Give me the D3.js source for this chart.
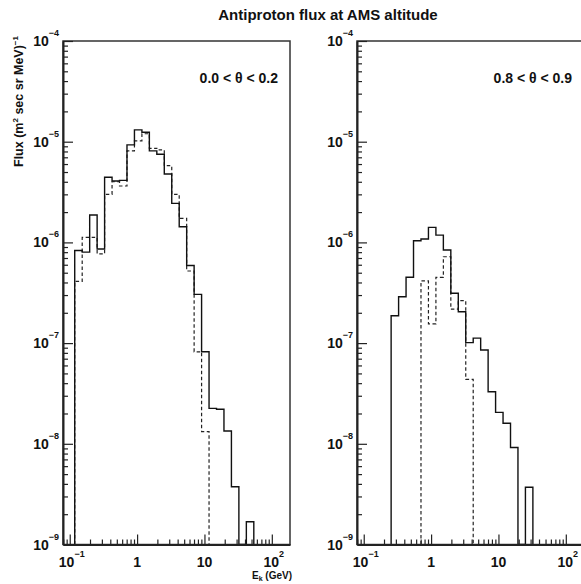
<!DOCTYPE html>
<html>
<head>
<meta charset="utf-8">
<script src="https://cdnjs.cloudflare.com/ajax/libs/d3/7.8.5/d3.min.js"></script>
<style>
  body { margin: 0; background: #fff; }
  text { font-family: "Liberation Sans", Arial, sans-serif; font-weight: bold; fill: #111; }
</style>
</head>
<body>
<div id="chart"></div>
<script>
// bin edges in GeV (equal steps in log E)
const binEdges = [0.1186, 0.1531, 0.1977, 0.2551, 0.3293, 0.4249, 0.5483, 0.7077, 0.9134,
  1.179, 1.521, 1.963, 2.533, 3.269, 4.219, 5.444, 7.025, 9.066, 11.70, 15.10, 19.48,
  25.14, 32.44, 41.87, 54.03];

// flux per bin, 0.0 < theta < 0.2
const leftSolid = [8.3e-7, 8.0e-7, 1.87e-6, 8.6e-7, 4.43e-6, 4.07e-6, 4.13e-6, 9.3e-6,
  1.31e-5, 1.24e-5, 8.1e-6, 7.5e-6, 4.78e-6, 2.44e-6, 1.43e-6, 5.9e-7, 3.05e-7, 8.2e-8,
  2.25e-8, 2.2e-8, 1.34e-8, 3.75e-9, 0, 1.68e-9];
const leftDashed = [4.1e-7, 1.12e-6, 1.12e-6, 7.7e-7, 3.0e-6, 4.0e-6, 3.63e-6, 8.1e-6,
  1.02e-5, 1.2e-5, 8.6e-6, 8.3e-6, 5.78e-6, 3.0e-6, 1.73e-6, 5.2e-7, 8.2e-8, 1.32e-8,
  0, 0, 0, 0, 0, 0];

// flux per bin, 0.8 < theta < 0.9
const rightSolid = [0, 0, 0, 1.87e-7, 2.89e-7, 4.5e-7, 1.04e-6, 1.08e-6, 1.41e-6, 1.18e-6,
  8.4e-7, 3.13e-7, 2.05e-7, 1.01e-7, 1.12e-7, 8.55e-8, 3.29e-8, 2.05e-8, 1.6e-8, 9.2e-9,
  0, 3.7e-9, 0, 0];
const rightDashed = [0, 0, 0, 0, 0, 0, 0, 4.14e-7, 1.55e-7, 4.5e-7, 7.2e-7, 2.17e-7,
  2.64e-7, 4.37e-8, 0, 0, 0, 0, 0, 0, 0, 0, 0, 0];

const panelLabels = ["0.0 < \u03b8 < 0.2", "0.8 < \u03b8 < 0.9"];
const yMajorExp = [-4, -5, -6, -7, -8, -9];
const xMajor = [0.1, 1, 10, 100];
const xMajorBase = ["10", "1", "10", "10"];
const xMajorSup = ["\u22121", "", "", "2"];

// layout
const svgWidth = 581, svgHeight = 584;
const yTop = 41, yBottom = 544.5;
const panelWidth = 227;

let svg = d3.select("#chart").append("svg")
  .attr("width", svgWidth)
  .attr("height", svgHeight);

svg.append("rect").attr("width", svgWidth).attr("height", svgHeight).attr("fill", "#fff");

let y = d3.scaleLog().domain([1e-9, 1e-4]).range([yBottom, yTop]);

// log ticks 2..9 in each decade
let yTicks = [];
for (let e = -9; e < -4; e++) {
  for (let m = 1; m < 10; m++) yTicks.push(m * Math.pow(10, e));
}
yTicks.push(1e-4);
let xTicks = [];
for (let e = -2; e <= 2; e++) {
  for (let m = 1; m < 10; m++) xTicks.push(+(m * Math.pow(10, e)).toPrecision(3));
}

const isMajor = v => Math.abs(Math.log10(v) - Math.round(Math.log10(v))) < 1e-6;

// step outline of a histogram, empty bins fall to the frame bottom
function histPath(values, x) {
  let first = values.findIndex(v => v > 0);
  let last = values.length - 1;
  while (values[last] <= 0) last--;
  let pts = [[x(binEdges[first]), yBottom]];
  for (let i = first; i <= last; i++) {
    let yy = values[i] > 0 ? y(values[i]) : yBottom;
    pts.push([x(binEdges[i]), yy]);
    pts.push([x(binEdges[i + 1]), yy]);
  }
  pts.push([x(binEdges[last + 1]), yBottom]);
  return d3.line()(pts);
}

const panels = [
  {x0: 63, solid: leftSolid, dashed: leftDashed, label: panelLabels[0]},
  {x0: 357, solid: rightSolid, dashed: rightDashed, label: panelLabels[1]}
];

panels.forEach(function(p, idx) {
  let x = d3.scaleLog()
    .domain([Math.pow(10, -1.1), Math.pow(10, 2.27)])
    .range([p.x0, p.x0 + panelWidth]);
  let xT = xTicks.filter(v => x(v) >= p.x0 && x(v) <= p.x0 + panelWidth);

  let g = svg.append("g");

  // histograms
  g.append("path")
    .attr("d", histPath(p.dashed, x))
    .attr("fill", "none")
    .attr("stroke", "#222")
    .attr("stroke-width", 1.2)
    .attr("stroke-dasharray", "3.5,2.5");
  g.append("path")
    .attr("d", histPath(p.solid, x))
    .attr("fill", "none")
    .attr("stroke", "#111")
    .attr("stroke-width", 1.4);

  // frame
  g.append("rect")
    .attr("x", p.x0).attr("y", yTop)
    .attr("width", panelWidth).attr("height", yBottom - yTop)
    .attr("fill", "none")
    .attr("stroke", "#333")
    .attr("stroke-width", 1.5);

  // axes, ticks pointing into the frame
  let yAxis = g.append("g")
    .attr("transform", `translate(${p.x0},0)`)
    .call(d3.axisLeft(y).tickValues(yTicks).tickSizeInner(-5).tickSizeOuter(0).tickFormat(""));
  yAxis.selectAll(".tick line").filter(d => isMajor(d)).attr("x2", 10);

  let xAxis = g.append("g")
    .attr("transform", `translate(0,${yBottom})`)
    .call(d3.axisBottom(x).tickValues(xT).tickSizeInner(-5).tickSizeOuter(0).tickFormat(""));
  xAxis.selectAll(".tick line").filter(d => isMajor(d)).attr("y2", -10);

  [yAxis, xAxis].forEach(a => {
    a.select(".domain").attr("stroke", "#222").attr("stroke-width", 2);
    a.selectAll(".tick line").attr("stroke", "#222").attr("stroke-width", 1.2);
  });

  // y tick labels 10^n
  yMajorExp.forEach(function(e) {
    let t = g.append("text")
      .attr("x", p.x0 - 4)
      .attr("y", y(Math.pow(10, e)) + 5)
      .attr("text-anchor", "end")
      .style("font-size", "14px");
    t.append("tspan").text("10");
    t.append("tspan").attr("dy", -10).style("font-size", "9px").text("\u2212" + (-e));
  });

  // x tick labels
  xMajor.forEach(function(v, i) {
    let t = g.append("text")
      .attr("x", x(v) + (xMajorSup[i] ? 2 : 0))
      .attr("y", yBottom + 22)
      .attr("text-anchor", "middle")
      .style("font-size", "14px");
    t.append("tspan").text(xMajorBase[i]);
    if (xMajorSup[i]) {
      t.append("tspan").attr("dy", -10).style("font-size", "9px").text(xMajorSup[i]);
    }
  });

  // theta range
  g.append("text")
    .attr("x", p.x0 + 215)
    .attr("y", 83)
    .attr("text-anchor", "end")
    .style("font-size", "14px")
    .text(p.label);
});

// x axis title (left panel only)
let xt = svg.append("text")
  .attr("x", 292)
  .attr("y", 579)
  .attr("text-anchor", "end")
  .style("font-size", "10px");
xt.append("tspan").text("E");
xt.append("tspan").attr("dy", 2).style("font-size", "7px").text("k");
xt.append("tspan").attr("dy", -2).text(" (GeV)");

// y axis title
let yt = svg.append("text")
  .attr("transform", "translate(23,101.5) rotate(-90)")
  .attr("text-anchor", "middle")
  .style("font-size", "12.5px");
yt.append("tspan").text("Flux (m");
yt.append("tspan").attr("dy", -5).style("font-size", "8px").text("2");
yt.append("tspan").attr("dy", 5).text(" sec sr MeV)");
yt.append("tspan").attr("dy", -5).style("font-size", "8px").text("\u22121");

// main title
svg.append("text")
  .attr("x", 328)
  .attr("y", 19.5)
  .attr("text-anchor", "middle")
  .style("font-size", "15px")
  .text("Antiproton flux at AMS altitude");
</script>
</body>
</html>
